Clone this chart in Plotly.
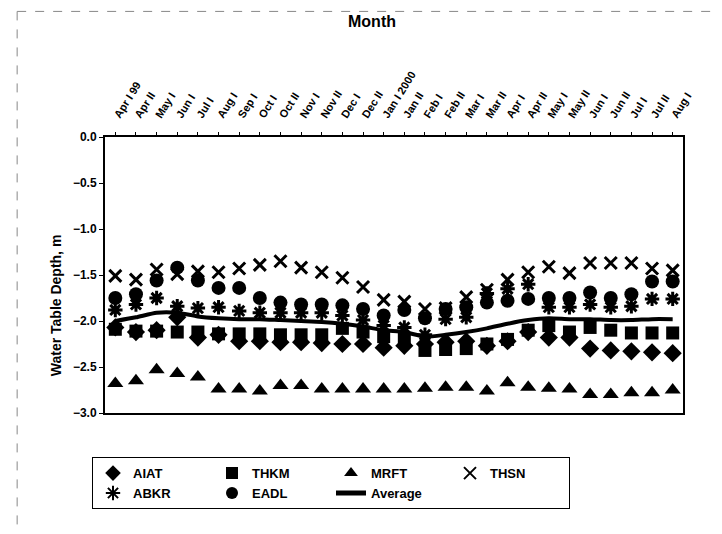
import plotly.graph_objects as go

categories = ["Apr I 99", "Apr II", "May I", "Jun I", "Jul I", "Aug I", "Sep I", "Oct I", "Oct II",
              "Nov I", "Nov II", "Dec I", "Dec II", "Jan I 2000", "Jan II", "Feb I", "Feb II",
              "Mar I", "Mar II", "Apr I ", "Apr II ", "May I ", "May II", "Jun I ", "Jun II",
              "Jul I ", "Jul II", "Aug I "]

aiat = [-2.07, -2.12, -2.10, -1.96, -2.18, -2.15, -2.22, -2.22, -2.23, -2.23, -2.24, -2.25, -2.25, -2.29,
        -2.27, -2.25, -2.23, -2.22, -2.27, -2.22, -2.12, -2.18, -2.18, -2.30, -2.32, -2.33, -2.34, -2.35]
thkm = [-2.09, -2.11, -2.11, -2.12, -2.12, -2.14, -2.14, -2.14, -2.15, -2.15, -2.15, -2.08, -2.12, -2.17,
        -2.20, -2.32, -2.31, -2.30, -2.25, -2.20, -2.10, -2.05, -2.12, -2.07, -2.10, -2.13, -2.13, -2.13]
mrft = [-2.68, -2.65, -2.53, -2.57, -2.61, -2.74, -2.74, -2.76, -2.70, -2.70, -2.74, -2.74, -2.74, -2.74,
        -2.74, -2.73, -2.72, -2.72, -2.76, -2.67, -2.72, -2.73, -2.74, -2.80, -2.80, -2.78, -2.78, -2.75]
thsn = [-1.51, -1.55, -1.44, -1.49, -1.46, -1.47, -1.43, -1.39, -1.35, -1.42, -1.47, -1.53, -1.63, -1.77,
        -1.79, -1.87, -1.86, -1.74, -1.66, -1.55, -1.47, -1.41, -1.48, -1.37, -1.37, -1.37, -1.43, -1.45]
abkr = [-1.88, -1.82, -1.75, -1.84, -1.86, -1.85, -1.89, -1.91, -1.91, -1.91, -1.91, -1.94, -1.99, -2.05,
        -2.07, -2.15, -1.98, -1.96, -1.70, -1.65, -1.60, -1.85, -1.85, -1.82, -1.85, -1.84, -1.76, -1.76]
eadl = [-1.75, -1.71, -1.56, -1.42, -1.56, -1.64, -1.64, -1.75, -1.80, -1.82, -1.82, -1.83, -1.87, -1.94,
        -1.88, -1.97, -1.87, -1.85, -1.80, -1.78, -1.76, -1.75, -1.75, -1.69, -1.75, -1.71, -1.57, -1.57]
average = [-2.00, -1.96, -1.91, -1.91, -1.95, -1.97, -1.98, -1.98, -1.99, -2.00, -2.01, -2.03, -2.06, -2.10,
           -2.12, -2.17, -2.15, -2.12, -2.08, -2.03, -1.99, -1.97, -1.98, -1.98, -1.99, -1.99, -1.98, -1.98]

y_ticks = [0.0, -0.5, -1.0, -1.5, -2.0, -2.5, -3.0]

FONT = "Liberation Sans"
fig = go.Figure()

def add_markers(name, vals, symbol, size, line_w=0):
    fig.add_trace(go.Scatter(
        x=categories, y=vals, mode="markers", name=name,
        marker=dict(symbol=symbol, size=size, color="black",
                    line=dict(color="black", width=line_w)),
    ))

add_markers("AIAT", aiat, "diamond", 14)
add_markers("THKM", thkm, "square", 13)
add_markers("MRFT", mrft, "triangle-up", 14)
add_markers("THSN", thsn, "x-thin-open", 12, 3)
add_markers("ABKR", abkr, "asterisk-open", 12, 3)
add_markers("EADL", eadl, "circle", 14)
fig.add_trace(go.Scatter(x=categories, y=average, mode="lines", name="Average",
                         line=dict(color="black", width=4, shape="spline", smoothing=0.6)))

fig.update_layout(
    width=722, height=534,
    margin=dict(l=97, r=47, t=129, b=129, autoexpand=False),
    paper_bgcolor="white", plot_bgcolor="white",
    font=dict(family=FONT, color="black", size=12, weight="bold"),
    showlegend=True,
    legend=dict(orientation="h", x=0.8045, y=-0.16, xanchor="right", yanchor="top",
                bordercolor="black", borderwidth=1, bgcolor="white",
                entrywidth=74, entrywidthmode="pixels",
                font=dict(family=FONT, size=13, weight="bold"),
                tracegroupgap=0, itemsizing="constant"),
    xaxis=dict(side="top", type="category", tickangle=-58, automargin=False,
               tickfont=dict(family=FONT, size=11, weight="bold"),
               showline=True, linecolor="black", linewidth=2, mirror=True,
               ticks="outside", ticklen=3, tickcolor="black", ticklabelstandoff=6,
               showgrid=False, zeroline=False, range=[-0.5, 27.5]),
    yaxis=dict(range=[-3.0, 0.0], tickvals=y_ticks, tickformat=".1f", automargin=False,
               tickfont=dict(family=FONT, size=12, weight="bold"),
               showline=True, linecolor="black", linewidth=2, mirror=True,
               ticks="outside", ticklen=4, tickcolor="black",
               showgrid=False, zeroline=False),
    annotations=[
        dict(text="Month", xref="paper", yref="paper", x=0.462, y=1.0, yshift=116,
             showarrow=False, font=dict(family=FONT, size=16, weight="bold"), yanchor="middle"),
        dict(text="Water Table Depth, m", xref="paper", yref="paper", x=-0.085, y=0.39,
             textangle=-90, showarrow=False, font=dict(family=FONT, size=14, weight="bold"),
             xanchor="center", yanchor="middle"),
    ],
    shapes=[
        dict(type="line", xref="paper", yref="paper", x0=-0.152, x1=1.08, y0=1.455, y1=1.455,
             line=dict(color="#888888", width=1, dash="dash")),
        dict(type="line", xref="paper", yref="paper", x0=-0.152, x1=-0.152, y0=1.455, y1=-0.42,
             line=dict(color="#888888", width=1, dash="dash")),
    ],
)

fig.write_html("out.html")
